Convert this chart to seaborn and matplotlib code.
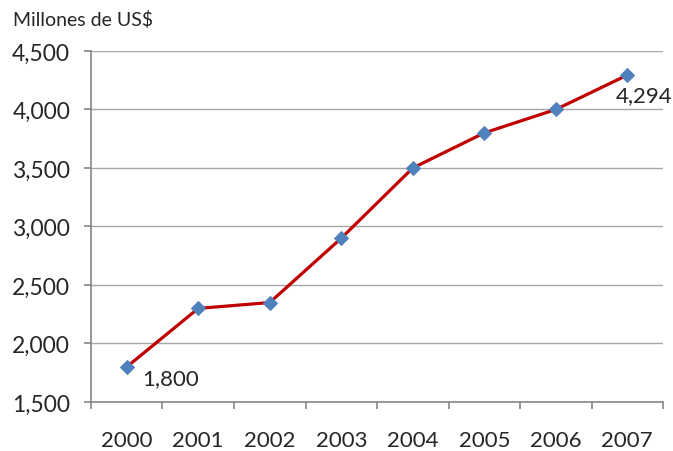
import pandas as pd
import matplotlib
matplotlib.use("Agg")
import matplotlib.pyplot as plt
import seaborn as sns
from matplotlib.ticker import FixedLocator, FuncFormatter

# Data
years = ["2000", "2001", "2002", "2003", "2004", "2005", "2006", "2007"]
values = [1800, 2300, 2350, 2900, 3500, 3800, 4000, 4294]
labelled = {0: "1,800", 7: "4,294"}

df = pd.DataFrame({"year": years, "value": values})

sns.set_style("white")
plt.rcParams["font.family"] = ["Lato", "DejaVu Sans"]

fig = plt.figure(figsize=(6.73, 4.52), dpi=100)
ax = fig.add_axes([0.1352, 0.1084, 0.85, 0.7766])

sns.lineplot(data=df, x="year", y="value", ax=ax, color="#C00000", linewidth=2.3,
             marker="D", markersize=7, markerfacecolor="#4F81BD",
             markeredgecolor="#4F81BD", sort=False)

ax.set_xlim(-0.5, len(years) - 0.5)
ax.set_ylim(1500, 4500)
ax.set_yticks(range(1500, 4501, 500))
ax.yaxis.set_major_formatter(FuncFormatter(lambda v, p: f"{int(v):,}"))
ax.grid(axis="y", color="#A6A6A6", linewidth=1)
ax.set_axisbelow(True)

for s in ["top", "right"]:
    ax.spines[s].set_visible(False)
for s in ["left", "bottom"]:
    ax.spines[s].set_color("#868686")
    ax.spines[s].set_linewidth(1.2)

ax.xaxis.set_minor_locator(FixedLocator([i - 0.5 for i in range(len(years) + 1)]))
ax.tick_params(axis="x", which="major", length=0, pad=20, labelsize=16, bottom=True)
ax.tick_params(axis="x", which="minor", length=5, color="#868686", width=1.2,
               direction="out", bottom=True)
ax.tick_params(axis="y", length=5, color="#868686", width=1.2, labelsize=16.5,
               pad=10, left=True)

ax.set_xlabel("")
ax.set_ylabel("")

# point labels: (x offset, y offset) in points
offsets = {0: (11, -1), 7: (-8, -7)}
for i, txt in labelled.items():
    ax.annotate(txt, (i, values[i]), xytext=offsets[i], textcoords="offset points",
                ha="left", va="top", fontsize=16)

fig.text(0.019, 0.955, "Millones de US$", fontsize=14, ha="left", va="center")

fig.savefig("out.png", dpi=100)
plt.close(fig)
